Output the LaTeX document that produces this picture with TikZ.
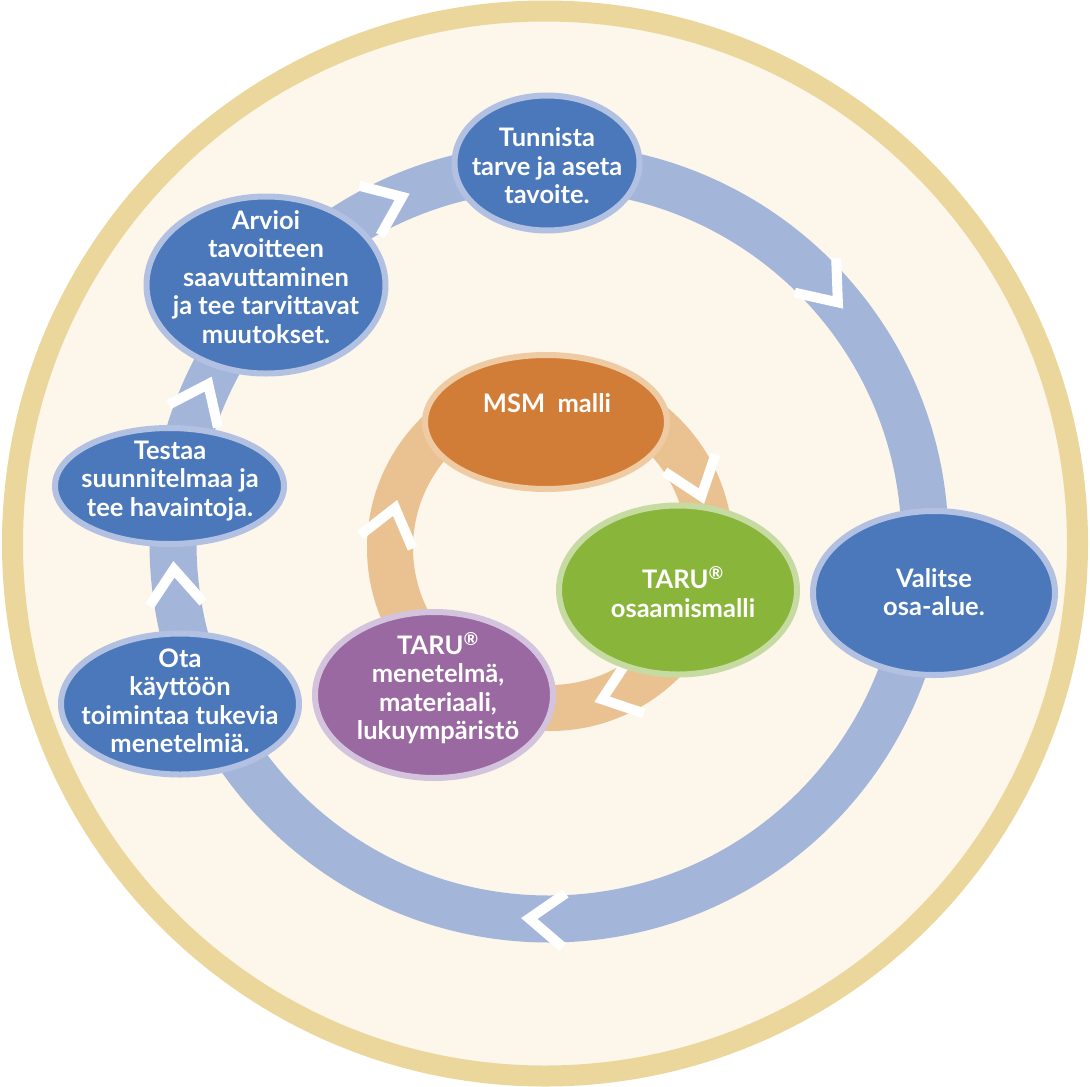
\documentclass[tikz,border=0pt]{standalone}
\usepackage{fontspec}
\setmainfont{Lato}
\usetikzlibrary{shapes.geometric}
\definecolor{bgfill}{HTML}{FCF6EB}
\definecolor{bgring}{HTML}{EBD79B}
\definecolor{bluering}{HTML}{A4B5DA}
\definecolor{bluenode}{HTML}{4A78BB}
\definecolor{blueedge}{HTML}{B2C1E2}
\definecolor{peachring}{HTML}{EAC292}
\definecolor{orangenode}{HTML}{D27D37}
\definecolor{orangeedge}{HTML}{EFCBA3}
\definecolor{greennode}{HTML}{89B53B}
\definecolor{greenedge}{HTML}{C6DBA2}
\definecolor{purplenode}{HTML}{9A69A2}
\definecolor{purpleedge}{HTML}{D3C3DC}
\newcommand\mychev[4]{%
  \begin{scope}[shift={(#1,#2)}, rotate=#4]
    \draw[chevline] (#3+27,-35) -- (#3,0) -- (#3-27,-35);
  \end{scope}}
\begin{document}
\begin{tikzpicture}[x=1pt,y=-1pt,
  blob/.style={ellipse, inner sep=0pt, line width=6pt},
  bluebox/.style={blob, fill=bluenode, draw=blueedge},
  lbl/.style={text=white, align=center, font=\bfseries\fontsize{25.5}{28.5}\selectfont, inner sep=0pt},
  chevline/.style={draw=white, line width=10pt, line join=miter, line cap=butt}]
\useasboundingbox (0,0) rectangle (1090,1087);
\fill[white] (0,0) rectangle (1090,1087);
\draw[fill=bgfill, draw=bgring, line width=21pt] (545,543.5) circle[radius=532.5];
% rings
\draw[bluering, line width=47pt] (549,543) circle[radius=376];
\draw[peachring, line width=46pt] (550,548) circle[radius=160];
% chevrons outer
\mychev{549}{543}{376}{113}
\mychev{549}{543}{376}{39.8}
\mychev{549}{543}{376}{-93}
\mychev{549}{543}{376}{184}
\mychev{549}{543}{376}{155}
% chevrons inner
\mychev{550}{548}{160}{18.9}
\mychev{550}{548}{160}{-71}
\mychev{550}{548}{160}{165.5}
% outer nodes
\node[bluebox, minimum width=185pt, minimum height=135pt] (tun) at (547,163) {};
\node[bluebox, minimum width=239pt, minimum height=177pt] (arv) at (266,285) {};
\node[bluebox, minimum width=229pt, minimum height=116pt] (tes) at (169.5,486) {};
\node[bluebox, minimum width=238pt, minimum height=141pt] (ota) at (180,704) {};
\node[bluebox, minimum width=242pt, minimum height=164pt] (val) at (934,593) {};
% inner nodes
\node[blob, fill=orangenode, draw=orangeedge, minimum width=242pt, minimum height=134pt] (msm) at (546,422) {};
\node[blob, fill=greennode, draw=greenedge, minimum width=238pt, minimum height=169pt] (taru) at (678,590) {};
\node[blob, fill=purplenode, draw=purpleedge, minimum width=238pt, minimum height=166pt] (men) at (434,695) {};
% labels
\node[lbl] (tunT) at (547,166) {Tunnista\\tarve ja aseta\\tavoite.};
\node[lbl] (arvT) at (266,277) {Arvioi\\tavoitteen\\saavuttaminen\\ja tee tarvittavat\\muutokset.};
\node[lbl] (tesT) at (170,481) {Testaa\\suunnitelmaa ja\\tee havaintoja.};
\node[lbl] (otaT) at (180,701) {Ota\\käyttöön\\toimintaa tukevia\\menetelmiä.};
\node[lbl] (valT) at (934,592) {Valitse\\osa-alue.};
\node[lbl] (msmT) at (547,403) {MSM\ \ malli};
\node[lbl] (taruT) at (683,592) {TARU\textsuperscript{®}\\osaamismalli};
\node[lbl] (menT) at (438,688) {TARU\textsuperscript{®}\\menetelmä,\\materiaali,\\lukuympäristö};
\end{tikzpicture}
\end{document}
